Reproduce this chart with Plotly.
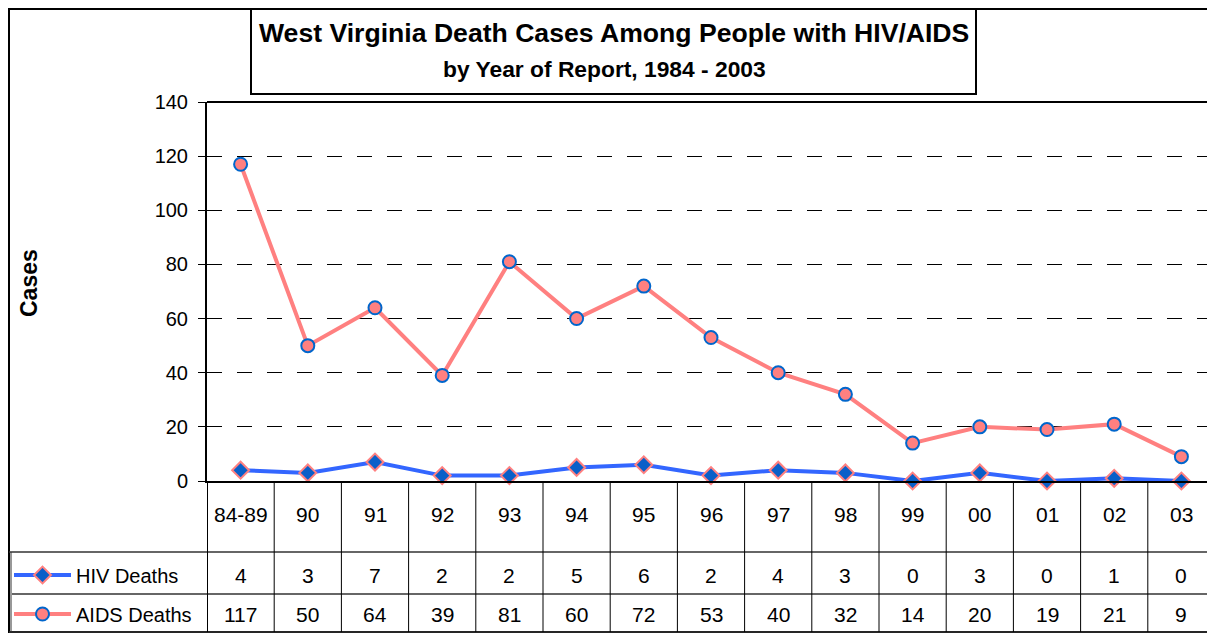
import plotly.graph_objects as go

categories = ["84-89", "90", "91", "92", "93", "94", "95", "96", "97", "98", "99", "00", "01", "02", "03"]
hiv_deaths = [4, 3, 7, 2, 2, 5, 6, 2, 4, 3, 0, 3, 0, 1, 0]
aids_deaths = [117, 50, 64, 39, 81, 60, 72, 53, 40, 32, 14, 20, 19, 21, 9]
y_ticks = [0, 20, 40, 60, 80, 100, 120, 140]

title_line1 = "West Virginia Death Cases Among People with HIV/AIDS"
title_line2 = "by Year of Report, 1984 - 2003"
y_title = "Cases"

FONT = "Liberation Sans, Arial, sans-serif"
OFF = 8  # page body margin offset
W, H = 1215 - OFF, 634 - OFF
REF_L, REF_T, REF_B = 207, 102, 481
L, T = REF_L - OFF, REF_T - OFF
B = H - (REF_B - OFF)
R = 0
PW, PH = W - L - R, H - T - B


def px_x(px):
    return (px - REF_L) / PW


def px_y(py):
    return (REF_B - py) / PH


fig = go.Figure()
fig.add_trace(go.Scatter(
    x=categories, y=hiv_deaths, name="HIV Deaths", mode="lines+markers",
    line=dict(color="#3366FF", width=4),
    marker=dict(symbol="diamond", size=13, color="#0A5FC8",
                line=dict(color="#FF8080", width=2)),
    cliponaxis=False, legend="legend",
))
fig.add_trace(go.Scatter(
    x=categories, y=aids_deaths, name="AIDS Deaths", mode="lines+markers",
    line=dict(color="#FF8080", width=4),
    marker=dict(symbol="circle", size=13, color="#FF8080",
                line=dict(color="#0066CC", width=2)),
    cliponaxis=False, legend="legend2",
))

shapes = []
# outer frame
shapes.append(dict(type="rect", xref="paper", yref="paper",
                   x0=px_x(9), x1=px_x(1216), y0=px_y(632), y1=px_y(9),
                   line=dict(color="black", width=2), layer="below"))
# title box
shapes.append(dict(type="rect", xref="paper", yref="paper",
                   x0=px_x(251), x1=px_x(976), y0=px_y(94), y1=px_y(9),
                   line=dict(color="black", width=2)))
# plot top border
shapes.append(dict(type="line", xref="paper", yref="paper",
                   x0=0, x1=1, y0=1, y1=1, line=dict(color="black", width=2)))
# table horizontal lines
for py, x0 in [(552, 9), (594, 12), (632, 9)]:
    shapes.append(dict(type="line", xref="paper", yref="paper",
                       x0=px_x(x0), x1=1, y0=px_y(py), y1=px_y(py),
                       line=dict(color="#333333", width=1.5)))
# table vertical lines at category boundaries
n = len(categories)
for i in range(n + 1):
    shapes.append(dict(type="line", xref="x", yref="paper",
                       x0=i - 0.5, x1=i - 0.5, y0=px_y(632), y1=0,
                       line=dict(color="black", width=2 if i == 0 else 1)))
# legend column left line
shapes.append(dict(type="line", xref="paper", yref="paper",
                   x0=px_x(11), x1=px_x(11), y0=px_y(632), y1=px_y(552),
                   line=dict(color="#333333", width=1)))

annotations = []
annotations.append(dict(text="<b>" + title_line1 + "</b>", xref="paper", yref="paper",
                        x=px_x(614), y=px_y(33), showarrow=False,
                        font=dict(family=FONT, size=26.6, color="black"),
                        xanchor="center", yanchor="middle"))
annotations.append(dict(text="<b>" + title_line2 + "</b>", xref="paper", yref="paper",
                        x=px_x(604), y=px_y(69), showarrow=False,
                        font=dict(family=FONT, size=22.8, color="black"),
                        xanchor="center", yanchor="middle"))
annotations.append(dict(text="<b>" + y_title + "</b>", xref="paper", yref="paper",
                        x=px_x(29), y=px_y(283), showarrow=False, textangle=-90,
                        font=dict(family=FONT, size=23, color="black"),
                        xanchor="center", yanchor="middle"))
for i, c in enumerate(categories):
    annotations.append(dict(text=c, xref="x", yref="paper", x=i, y=px_y(514),
                            showarrow=False, font=dict(family=FONT, size=21, color="black"),
                            xanchor="center", yanchor="middle"))
    annotations.append(dict(text=str(hiv_deaths[i]), xref="x", yref="paper", x=i, y=px_y(575),
                            showarrow=False, font=dict(family=FONT, size=21, color="black"),
                            xanchor="center", yanchor="middle"))
    annotations.append(dict(text=str(aids_deaths[i]), xref="x", yref="paper", x=i, y=px_y(614),
                            showarrow=False, font=dict(family=FONT, size=21, color="black"),
                            xanchor="center", yanchor="middle"))

legend_common = dict(xref="paper", yref="paper", xanchor="left", yanchor="middle",
                     bgcolor="rgba(0,0,0,0)", borderwidth=0,
                     font=dict(family=FONT, size=20, color="black"), itemwidth=57)

fig.update_layout(
    width=W, height=H,
    margin=dict(l=L, r=R, t=T, b=B, pad=0),
    paper_bgcolor="white", plot_bgcolor="white",
    font=dict(family=FONT, color="black"),
    showlegend=True,
    legend=dict(x=px_x(9), y=px_y(575), **legend_common),
    legend2=dict(x=px_x(9), y=px_y(614), **legend_common),
    xaxis=dict(type="category", categoryorder="array", categoryarray=categories,
               range=[-0.5, n - 0.5], showticklabels=False, ticks="",
               showgrid=False, zeroline=False, showline=True,
               linecolor="black", linewidth=2, fixedrange=True),
    yaxis=dict(range=[0, 140], tickvals=y_ticks, ticks="outside", ticklen=7,
               tickcolor="black", tickwidth=1, showline=True, linecolor="black",
               linewidth=2, showgrid=True, gridcolor="black", gridwidth=1,
               griddash="15px,15px", zeroline=False, ticklabelstandoff=6,
               tickfont=dict(family=FONT, size=20, color="black"), fixedrange=True),
    shapes=shapes, annotations=annotations,
)

fig.write_html("out.html")
